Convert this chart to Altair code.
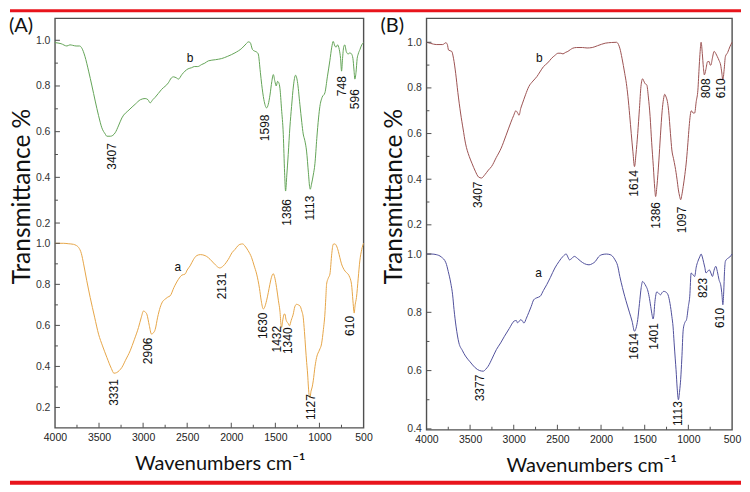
import altair as alt
import pandas as pd

# ---------------- data ----------------
# Panel A, spectrum b (top, green)
A_b_wn = [4000, 3930, 3864, 3830, 3800, 3760, 3720, 3694, 3660, 3618, 3580, 3543, 3505, 3468, 3430, 3411,
          3370, 3317, 3280, 3241, 3160, 3090, 3030, 2977, 2945, 2920, 2890, 2864, 2790, 2713, 2680, 2656,
          2620, 2600, 2560, 2525, 2490, 2449, 2420, 2380, 2335, 2300, 2260, 2180, 2109, 2040, 1958, 1880,
          1830, 1807, 1785, 1760, 1732, 1710, 1694, 1670, 1655, 1630, 1599, 1580, 1561, 1540, 1523, 1505,
          1490, 1475, 1462, 1448, 1430, 1410, 1395, 1384, 1370, 1354, 1335, 1316, 1295, 1271, 1250, 1222,
          1200, 1184, 1165, 1146, 1125, 1110, 1104, 1090, 1070, 1051, 1030, 1010, 995, 970, 938, 910, 882,
          860, 844, 825, 810, 795, 775, 760, 749, 738, 725, 712, 695, 674, 655, 636, 620, 608, 598, 585,
          572, 560, 540, 520, 500]
A_b_t = [0.99, 0.985, 0.975, 0.98, 0.978, 0.975, 0.975, 0.965, 0.93, 0.865, 0.80, 0.734, 0.67, 0.617, 0.59, 0.58,
         0.58, 0.595, 0.625, 0.66, 0.695, 0.72, 0.74, 0.745, 0.74, 0.726, 0.74, 0.75, 0.785, 0.814, 0.835, 0.84,
         0.835, 0.83, 0.85, 0.865, 0.875, 0.88, 0.885, 0.885, 0.894, 0.90, 0.91, 0.915, 0.92, 0.93, 0.945, 0.965,
         0.985, 0.993, 0.99, 0.96, 0.952, 0.948, 0.94, 0.86, 0.807, 0.74, 0.704, 0.72, 0.76, 0.82, 0.85, 0.82,
         0.80, 0.82, 0.815, 0.79, 0.70, 0.588, 0.42, 0.34, 0.41, 0.50, 0.62, 0.71, 0.80, 0.847, 0.82, 0.72,
         0.64, 0.59, 0.56, 0.515, 0.42, 0.355, 0.348, 0.37, 0.41, 0.46, 0.57, 0.66, 0.71, 0.75, 0.77, 0.84, 0.91,
         0.97, 0.995, 0.975, 0.97, 0.98, 0.96, 0.92, 0.865, 0.92, 0.97, 0.98, 0.95, 0.94, 0.945, 0.94, 0.92, 0.87, 0.83, 0.86,
         0.92, 0.94, 0.96, 0.98, 0.99]

# Panel A, spectrum a (bottom, orange)
A_a_wn = [4000, 3900, 3850, 3789, 3760, 3732, 3700, 3675, 3640, 3600, 3550, 3505, 3460, 3411, 3360, 3331,
          3300, 3270, 3241, 3200, 3147, 3100, 3052, 3020, 2996, 2975, 2958, 2930, 2906, 2880, 2863, 2835,
          2807, 2780, 2750, 2720, 2693, 2650, 2599, 2560, 2524, 2500, 2467, 2430, 2392, 2350, 2297, 2260,
          2222, 2180, 2131, 2090, 2060, 2033, 1990, 1958, 1920, 1901, 1870, 1845, 1810, 1769, 1740, 1712,
          1680, 1660, 1637, 1620, 1600, 1580, 1562, 1540, 1524, 1505, 1486, 1465, 1448, 1435, 1429, 1418,
          1410, 1400, 1391, 1380, 1372, 1355, 1340, 1320, 1297, 1280, 1259, 1240, 1221, 1200, 1184, 1170,
          1157, 1145, 1134, 1125, 1115, 1108, 1095, 1082, 1070, 1050, 1032, 1000, 976, 955, 938, 928, 919,
          900, 881, 860, 844, 825, 806, 785, 768, 750, 731, 710, 693, 675, 655, 645, 636, 620, 610, 606,
          595, 580, 560, 542, 520, 500]
A_a_t = [1.0, 1.0, 0.998, 0.995, 0.99, 0.98, 0.95, 0.90, 0.82, 0.736, 0.64, 0.557, 0.50, 0.444, 0.39, 0.367,
         0.37, 0.38, 0.395, 0.43, 0.476, 0.53, 0.59, 0.64, 0.67, 0.665, 0.655, 0.60, 0.558, 0.565, 0.58, 0.64,
         0.687, 0.715, 0.728, 0.738, 0.744, 0.785, 0.825, 0.845, 0.85, 0.87, 0.89, 0.92, 0.94, 0.945, 0.94, 0.93,
         0.914, 0.895, 0.88, 0.89, 0.905, 0.922, 0.955, 0.97, 0.99, 0.995, 0.997, 0.987, 0.965, 0.93, 0.89, 0.85,
         0.78, 0.72, 0.68, 0.69, 0.72, 0.76, 0.80, 0.84, 0.852, 0.83, 0.784, 0.72, 0.67, 0.60, 0.59, 0.62,
         0.64, 0.655, 0.655, 0.63, 0.62, 0.61, 0.598, 0.625, 0.655, 0.69, 0.703, 0.70, 0.695, 0.67, 0.64, 0.57,
         0.49, 0.42, 0.363, 0.30, 0.255, 0.248, 0.28, 0.30, 0.33, 0.40, 0.444, 0.48, 0.51, 0.58, 0.655, 0.73, 0.80,
         0.83, 0.85, 0.95, 0.995, 0.997, 0.987, 0.96, 0.93, 0.90, 0.88, 0.865, 0.857, 0.85, 0.833, 0.82, 0.80, 0.72, 0.67, 0.66,
         0.70, 0.736, 0.83, 0.914, 0.97, 1.0]

# Panel B, spectrum b (top, brown)
B_b_wn = [4000, 3950, 3888, 3814, 3777, 3760, 3747, 3710, 3690, 3665, 3640, 3609, 3580, 3553, 3510, 3479,
          3440, 3404, 3370, 3330, 3290, 3255, 3200, 3144, 3090, 3032, 3000, 2976, 2955, 2939, 2920, 2902,
          2865, 2827, 2780, 2734, 2700, 2660, 2610, 2566, 2530, 2492, 2460, 2436, 2410, 2380, 2350, 2324,
          2280, 2213, 2160, 2101, 2040, 1952, 1880, 1822, 1800, 1785, 1760, 1729, 1710, 1692, 1672, 1654,
          1635, 1617, 1600, 1580, 1560, 1543, 1524, 1510, 1498, 1476, 1458, 1438, 1420, 1401, 1385, 1375,
          1360, 1338, 1320, 1300, 1285, 1271, 1255, 1240, 1226, 1205, 1189, 1170, 1152, 1130, 1114, 1100,
          1088, 1075, 1059, 1040, 1021, 1005, 991, 978, 966, 945, 928, 910, 891, 875, 865, 854, 840, 828,
          817, 800, 780, 761, 750, 742, 725, 705, 685, 668, 648, 630, 618, 605, 590, 576, 550, 525, 500]
B_b_t = [1.0, 0.995, 0.99, 0.99, 0.998, 0.99, 0.966, 0.96, 0.93, 0.864, 0.78, 0.69, 0.62, 0.558, 0.50, 0.47,
         0.435, 0.41, 0.405, 0.42, 0.44, 0.455, 0.495, 0.536, 0.59, 0.65, 0.68, 0.70, 0.69, 0.68, 0.71, 0.73,
         0.77, 0.806, 0.83, 0.85, 0.87, 0.893, 0.91, 0.93, 0.942, 0.952, 0.952, 0.949, 0.955, 0.96, 0.968, 0.974,
         0.977, 0.977, 0.975, 0.977, 0.985, 0.996, 0.999, 1.0, 0.99, 0.974, 0.93, 0.864, 0.82, 0.762, 0.68, 0.60,
         0.52, 0.455, 0.51, 0.60, 0.71, 0.806, 0.84, 0.83, 0.82, 0.813, 0.76, 0.674, 0.56, 0.455, 0.36, 0.324,
         0.37, 0.48, 0.59, 0.70, 0.75, 0.772, 0.76, 0.74, 0.70, 0.60, 0.528, 0.49, 0.455, 0.40, 0.353, 0.325,
         0.31, 0.33, 0.368, 0.42, 0.485, 0.56, 0.63, 0.68, 0.70, 0.69, 0.69, 0.74, 0.79, 0.90, 0.96, 1.0, 0.95, 0.89,
         0.857, 0.88, 0.915, 0.915, 0.90, 0.90, 0.93, 0.96, 0.95, 0.937, 0.92, 0.90, 0.87, 0.835, 0.88, 0.937, 0.955, 0.98, 1.0]

# Panel B, spectrum a (bottom, navy)
B_a_wn = [4000, 3940, 3888, 3830, 3777, 3750, 3721, 3700, 3684, 3660, 3628, 3590, 3553, 3500, 3442, 3390,
          3348, 3320, 3293, 3250, 3199, 3150, 3106, 3050, 2995, 2970, 2957, 2935, 2920, 2900, 2883, 2855,
          2827, 2800, 2771, 2735, 2697, 2660, 2622, 2580, 2529, 2480, 2436, 2399, 2380, 2362, 2335, 2306,
          2270, 2231, 2190, 2138, 2100, 2064, 2030, 1989, 1940, 1896, 1870, 1840, 1810, 1785, 1755, 1729,
          1700, 1673, 1645, 1617, 1600, 1580, 1560, 1540, 1524, 1505, 1486, 1468, 1450, 1431, 1415, 1405,
          1395, 1385, 1375, 1362, 1349, 1330, 1319, 1300, 1282, 1260, 1233, 1210, 1189, 1175, 1163, 1150,
          1141, 1128, 1114, 1100, 1088, 1075, 1059, 1040, 1021, 1000, 984, 968, 950, 928, 910, 891, 870,
          854, 840, 824, 812, 798, 780, 761, 742, 724, 705, 686, 668, 649, 627, 615, 605, 595, 586, 576,
          550, 525, 500]
B_a_t = [1.0, 1.0, 0.998, 0.99, 0.97, 0.94, 0.90, 0.86, 0.81, 0.75, 0.695, 0.67, 0.65, 0.63, 0.61, 0.60,
         0.598, 0.605, 0.615, 0.64, 0.672, 0.695, 0.718, 0.745, 0.77, 0.772, 0.764, 0.77, 0.775, 0.77, 0.763, 0.78,
         0.80, 0.82, 0.843, 0.85, 0.855, 0.875, 0.895, 0.92, 0.952, 0.975, 0.992, 1.0, 0.99, 0.98, 0.985, 0.992,
         0.985, 0.975, 0.967, 0.963, 0.967, 0.975, 0.99, 0.998, 1.0, 0.998, 0.993, 0.98, 0.96, 0.923, 0.885, 0.855,
         0.825, 0.798, 0.77, 0.735, 0.745, 0.775, 0.83, 0.885, 0.906, 0.90, 0.89, 0.878, 0.855, 0.82, 0.79, 0.777,
         0.79, 0.83, 0.855, 0.87, 0.868, 0.862, 0.86, 0.868, 0.872, 0.87, 0.86, 0.83, 0.786, 0.75, 0.695, 0.64,
         0.603, 0.54, 0.50, 0.53, 0.57, 0.64, 0.74, 0.765, 0.775, 0.82, 0.855, 0.935, 0.93, 0.923, 0.955, 0.975, 0.99,
         1.0, 0.99, 0.97, 0.955, 0.935, 0.94, 0.946, 0.935, 0.923, 0.945, 0.958, 0.94, 0.912, 0.89, 0.86, 0.826, 0.87, 0.94, 0.975,
         0.985, 0.99, 1.0]

# peak annotations: label text, wavenumber position, transmittance at the top of the label
A_b_peak_lab = ["3407", "1598", "1386", "1113", "748", "596"]
A_b_peak_wn = [3354, 1618, 1372, 1108, 749, 591]
A_b_peak_t = [0.55, 0.675, 0.305, 0.32, 0.843, 0.786]

A_a_peak_lab = ["3331", "2906", "2131", "1630", "1432", "1340", "1127", "610"]
A_a_peak_wn = [3335, 2939, 2108, 1637, 1486, 1353, 1097, 655]
A_a_peak_t = [0.338, 0.541, 0.857, 0.663, 0.598, 0.59, 0.265, 0.646]

B_b_peak_lab = ["3407", "1614", "1386", "1097", "808", "610"]
B_b_peak_wn = [3404, 1617, 1375, 1077, 798, 630]
B_b_peak_t = [0.39, 0.44, 0.30, 0.28, 0.842, 0.842]

B_a_peak_lab = ["3377", "1614", "1401", "1113", "823", "610"]
B_a_peak_wn = [3386, 1617, 1394, 1114, 835, 641]
B_a_peak_t = [0.586, 0.729, 0.763, 0.495, 0.918, 0.815]

# curve letters
A_b_letter = ("b", 2468, 0.923)
A_a_letter = ("a", 2607, 0.885)
B_b_letter = ("b", 2708, 0.93)
B_a_letter = ("a", 2715, 0.935)

# axes
X_LABELS = [4000, 3500, 3000, 2500, 2000, 1500, 1000, 500]
X_MINOR = [3750, 3250, 2750, 2250, 1750, 1250, 750]
Y_MAJOR_FULL = [0.2, 0.4, 0.6, 0.8, 1.0]
Y_MINOR_FULL = [0.3, 0.5, 0.7, 0.9]
Y_MAJOR_B_A = [0.4, 0.6, 0.8, 1.0]
Y_MINOR_B_A = [0.5, 0.7, 0.9]

# ---------------- styling ----------------
NUM_FONT = "Liberation Sans"
TITLE_FONT = "Lato"
FRAME = "#505050"
TXT = "#111111"
BAR_RED = "#e8141c"
XSCALE = alt.Scale(domain=[4000, 500], nice=False, zero=False)
XAX = alt.Axis(values=X_LABELS, format="d", ticks=False, tickSize=0, domain=False, grid=False,
               labelFont=NUM_FONT, labelFontSize=10.5, labelColor="#222222", labelPadding=5,
               labelOverlap=False, labelFlush=False,
               title="Wavenumbers cm\u207b\u00b9",
               titleFont=TITLE_FONT, titleFontSize=20, titleFontWeight="normal", titleColor=TXT,
               titleX=165, titleY=42, titleAlign="center", titleBaseline="alphabetic")

WA, HA = 309, 410
WB, HB = 306, 412
GAP = 63                       # distance between the two frames
BAR_RIGHT = WA + GAP + WB + 9  # red bars run across both panels


def group(wn, t, color, domain, major, minor, plab, pwn, pt, letter, H,
          title=False, panel_label=None, xticks=False, bars=False):
    ys = alt.Scale(domain=domain, nice=False, zero=False)
    kw = dict(orient="left", values=major, format=".1f", ticks=False, tickSize=0,
              domain=False, grid=False, labelFont=NUM_FONT, labelFontSize=10.5,
              labelColor="#333333", labelPadding=5, labelOverlap=False)
    if title:
        kw.update(title="Transmittance %", titleFont=TITLE_FONT, titleFontSize=24.5,
                  titleFontWeight="normal", titleColor=TXT, titleAngle=270, titleX=-32,
                  titleY=178, titleAlign="center", titleBaseline="middle")
    else:
        kw.update(title=None)
    YAX = alt.Axis(**kw)
    X = alt.X("wn:Q", scale=XSCALE, axis=XAX)

    df = pd.DataFrame({"wn": wn, "t": t})
    line = alt.Chart(df).mark_line(color=color, strokeWidth=1, interpolate="monotone").encode(
        x=X, y=alt.Y("t:Q", scale=ys, axis=YAX),
        order=alt.Order("wn:Q", sort="descending"),
    )
    pk = pd.DataFrame({"lab": plab, "wn": pwn, "t": pt})
    peaks = alt.Chart(pk).mark_text(angle=270, align="right", baseline="middle", font=NUM_FONT,
                                    fontSize=12, color=TXT).encode(
        x=X, y=alt.Y("t:Q", scale=ys, axis=YAX), text="lab:N")
    lt = pd.DataFrame({"lab": [letter[0]], "wn": [letter[1]], "t": [letter[2]]})
    let = alt.Chart(lt).mark_text(align="center", baseline="middle", font=NUM_FONT, fontSize=12,
                                  color=TXT).encode(
        x=X, y=alt.Y("t:Q", scale=ys, axis=YAX), text="lab:N")
    ymaj = alt.Chart(pd.DataFrame({"t": major})).mark_rule(color=FRAME, strokeWidth=1).encode(
        y=alt.Y("t:Q", scale=ys, axis=YAX), x=alt.value(0), x2=alt.value(5))
    ymin = alt.Chart(pd.DataFrame({"t": minor})).mark_rule(color=FRAME, strokeWidth=1).encode(
        y=alt.Y("t:Q", scale=ys, axis=YAX), x=alt.value(0), x2=alt.value(3))
    layers = [line, peaks, let, ymaj, ymin]
    if xticks:
        xmaj = alt.Chart(pd.DataFrame({"wn": X_LABELS[1:-1]})).mark_rule(color=FRAME, strokeWidth=1).encode(
            x=X, y=alt.value(H), y2=alt.value(H - 5))
        xmin = alt.Chart(pd.DataFrame({"wn": X_MINOR})).mark_rule(color=FRAME, strokeWidth=1).encode(
            x=X, y=alt.value(H), y2=alt.value(H - 3))
        layers += [xmaj, xmin]
    if panel_label:
        pl = alt.Chart(pd.DataFrame({"lab": [panel_label]})).mark_text(
            align="left", baseline="middle", font=TITLE_FONT, fontSize=20, color=TXT).encode(
            x=alt.value(-46), y=alt.value(8), text="lab:N")
        layers.append(pl)
    if bars:
        top = alt.Chart(pd.DataFrame({"k": [0]})).mark_rect(color=BAR_RED).encode(
            x=alt.value(-45), x2=alt.value(BAR_RIGHT), y=alt.value(-9), y2=alt.value(-6))
        bot = alt.Chart(pd.DataFrame({"k": [0]})).mark_rect(color=BAR_RED).encode(
            x=alt.value(-45), x2=alt.value(BAR_RIGHT), y=alt.value(463), y2=alt.value(467))
        layers += [top, bot]
    return alt.layer(*layers)


panelA = alt.layer(
    group(A_b_wn, A_b_t, "#63a457", [-0.6962, 1.0962], Y_MAJOR_FULL, Y_MINOR_FULL,
          A_b_peak_lab, A_b_peak_wn, A_b_peak_t, A_b_letter, HA, title=True, panel_label="(A)",
          bars=True),
    group(A_a_wn, A_a_t, "#e6a648", [0.1012, 2.0964], Y_MAJOR_FULL, Y_MINOR_FULL,
          A_a_peak_lab, A_a_peak_wn, A_a_peak_t, A_a_letter, HA, xticks=True),
).resolve_scale(y="independent").properties(
    width=WA, height=HA, view=alt.ViewBackground(stroke=FRAME, strokeWidth=1.4))

panelB = alt.layer(
    group(B_b_wn, B_b_t, "#9c5252", [-0.698, 1.105], Y_MAJOR_FULL, Y_MINOR_FULL,
          B_b_peak_lab, B_b_peak_wn, B_b_peak_t, B_b_letter, HB, title=True, panel_label="(B)"),
    group(B_a_wn, B_a_t, "#50509c", [0.397, 1.809], Y_MAJOR_B_A, Y_MINOR_B_A,
          B_a_peak_lab, B_a_peak_wn, B_a_peak_t, B_a_letter, HB, xticks=True),
).resolve_scale(y="independent").properties(
    width=WB, height=HB, view=alt.ViewBackground(stroke=FRAME, strokeWidth=1.4))

chart = alt.hconcat(panelA, panelB, spacing=GAP, bounds="flush").properties(
    padding=0, background="white")

chart.save("out.html", embed_options={"renderer": "svg", "actions": False})
